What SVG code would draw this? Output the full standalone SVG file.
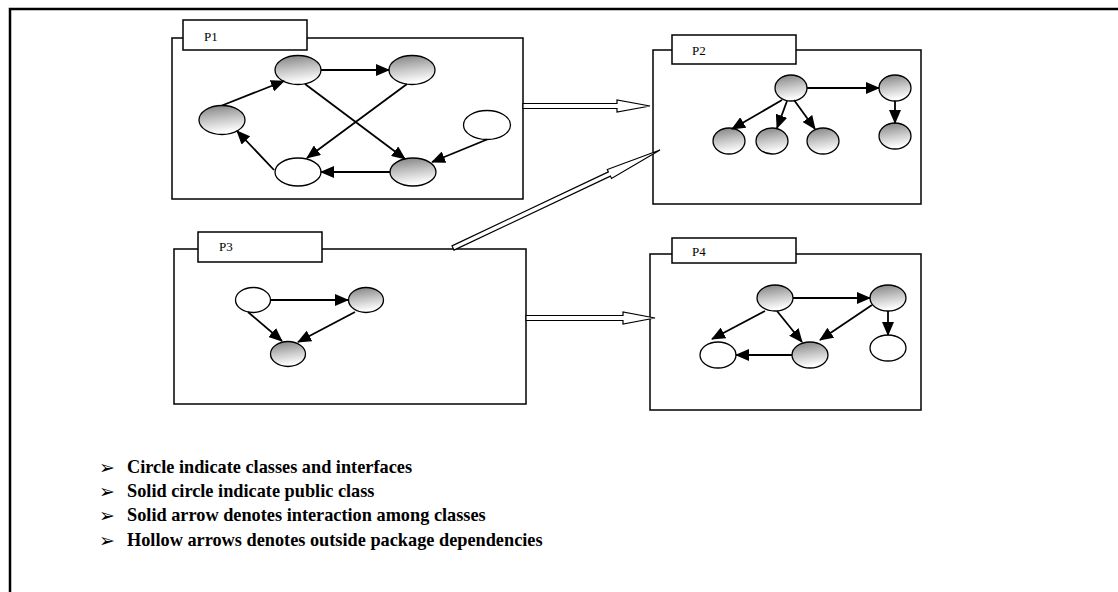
<svg xmlns="http://www.w3.org/2000/svg" width="1118" height="592" viewBox="0 0 1118 592">
<defs>
<linearGradient id="shade" x1="0" y1="0" x2="0.2" y2="1">
<stop offset="0" stop-color="#7e7e7e"/>
<stop offset="0.55" stop-color="#c8c8c8"/>
<stop offset="1" stop-color="#ffffff"/>
</linearGradient>
<marker id="ah" markerUnits="userSpaceOnUse" markerWidth="14" markerHeight="12" refX="13" refY="6" orient="auto">
<path d="M0,0 L14,6 L0,12 Z" fill="#000"/>
</marker>
</defs>
<style>
.frame{fill:none;stroke:#000;stroke-width:2.5}
.box{fill:none;stroke:#000;stroke-width:1.5}
.tab{fill:#fff;stroke:#000;stroke-width:1.5}
.lbl{font-family:"Liberation Serif",serif;font-size:13px;fill:#000}
.s{fill:url(#shade);stroke:#000;stroke-width:1.3}
.w{fill:#fff;stroke:#000;stroke-width:1.3}
.e{fill:none;stroke:#000;stroke-width:1.8;marker-end:url(#ah)}
.hollow{fill:#fff;stroke:#000;stroke-width:1.2}
.bul{font-family:"DejaVu Sans",sans-serif;font-size:19px;fill:#000}
.txt{font-family:"Liberation Serif",serif;font-weight:bold;font-size:18.3px;fill:#000}
</style>
<path class="frame" d="M10,592 V9 H1118"/>

<g id="P1">
<rect class="box" x="172" y="38" width="351" height="161"/>
<rect class="tab" x="183" y="20" width="124" height="30"/>
<text class="lbl" x="204" y="41">P1</text>
<ellipse class="s" cx="298" cy="70" rx="23" ry="14.5"/>
<ellipse class="s" cx="412" cy="70" rx="23" ry="14.5"/>
<ellipse class="s" cx="222" cy="120" rx="23" ry="14.5"/>
<ellipse class="w" cx="487" cy="125" rx="23.5" ry="14.5"/>
<ellipse class="w" cx="298" cy="172" rx="23" ry="14"/>
<ellipse class="s" cx="413" cy="172" rx="23" ry="14"/>
</g>

<g id="P2">
<rect class="box" x="653" y="50" width="268" height="154"/>
<rect class="tab" x="672" y="35" width="124" height="29"/>
<text class="lbl" x="692" y="55">P2</text>
<ellipse class="s" cx="791" cy="88" rx="16" ry="13"/>
<ellipse class="s" cx="895" cy="88" rx="16" ry="13"/>
<ellipse class="s" cx="895" cy="136" rx="16" ry="13"/>
<ellipse class="s" cx="729" cy="141" rx="16" ry="13"/>
<ellipse class="s" cx="772" cy="141" rx="16" ry="13"/>
<ellipse class="s" cx="823" cy="141" rx="16" ry="13"/>
</g>

<g id="P3">
<rect class="box" x="174" y="249" width="352" height="155"/>
<rect class="tab" x="198" y="232" width="124" height="30"/>
<text class="lbl" x="219" y="251">P3</text>
<ellipse class="w" cx="253" cy="300" rx="17.5" ry="12.5"/>
<ellipse class="s" cx="366" cy="300" rx="17.5" ry="12.5"/>
<ellipse class="s" cx="288" cy="354" rx="17.5" ry="12.5"/>
</g>

<g id="P4">
<rect class="box" x="650" y="254" width="271" height="156"/>
<rect class="tab" x="672" y="238" width="124" height="25"/>
<text class="lbl" x="692" y="256">P4</text>
<ellipse class="s" cx="775" cy="298" rx="18" ry="13"/>
<ellipse class="s" cx="888" cy="298" rx="18" ry="13"/>
<ellipse class="w" cx="888" cy="348" rx="18" ry="13"/>
<ellipse class="s" cx="810" cy="355" rx="18" ry="13"/>
<ellipse class="w" cx="718" cy="355" rx="18" ry="13"/>
</g>

<g id="connectors">
<line class="e" x1="222" y1="105.5" x2="284" y2="81"/>
<line class="e" x1="321" y1="70" x2="389" y2="70"/>
<line class="e" x1="305" y1="84" x2="405" y2="159"/>
<line class="e" x1="407" y1="84" x2="307" y2="158"/>
<line class="e" x1="487" y1="139.5" x2="432" y2="162"/>
<line class="e" x1="390" y1="172" x2="321" y2="172"/>
<line class="e" x1="274" y1="170" x2="237" y2="131"/>

<line class="e" x1="807" y1="88" x2="879" y2="88"/>
<line class="e" x1="782" y1="100" x2="732" y2="129"/>
<line class="e" x1="787" y1="101" x2="777" y2="128"/>
<line class="e" x1="794" y1="100" x2="815" y2="129"/>
<line class="e" x1="895" y1="101" x2="895" y2="123"/>

<line class="e" x1="271" y1="300" x2="348" y2="300"/>
<line class="e" x1="248" y1="312" x2="282" y2="341"/>
<line class="e" x1="355" y1="312" x2="298" y2="342"/>

<line class="e" x1="793" y1="298" x2="870" y2="298"/>
<line class="e" x1="765" y1="311" x2="712" y2="339"/>
<line class="e" x1="777" y1="311" x2="802" y2="342"/>
<line class="e" x1="872" y1="305" x2="820" y2="340"/>
<line class="e" x1="888" y1="311" x2="888" y2="335"/>
<line class="e" x1="792" y1="355" x2="736" y2="355"/>

<polygon class="hollow" points="523,103.5 617,103.5 617,100 650,106 617,112 617,108.5 523,108.5"/>
<polygon class="hollow" points="452,245.9 608.4,171.9 607.3,169.5 660,150 611.5,178.5 610.4,176.1 454,250.1"/>
<polygon class="hollow" points="526,315.5 623,315.5 623,312 655,318 623,324 623,320.5 526,320.5"/>
</g>

<g id="legend">
<text class="bul" x="99" y="474">➢</text>
<text class="txt" x="127" y="473">Circle indicate classes and interfaces</text>
<text class="bul" x="99" y="498">➢</text>
<text class="txt" x="127" y="497">Solid circle indicate public class</text>
<text class="bul" x="99" y="522">➢</text>
<text class="txt" x="127" y="521">Solid arrow denotes interaction among classes</text>
<text class="bul" x="99" y="547">➢</text>
<text class="txt" x="127" y="546">Hollow arrows denotes outside package dependencies</text>
</g>
</svg>
